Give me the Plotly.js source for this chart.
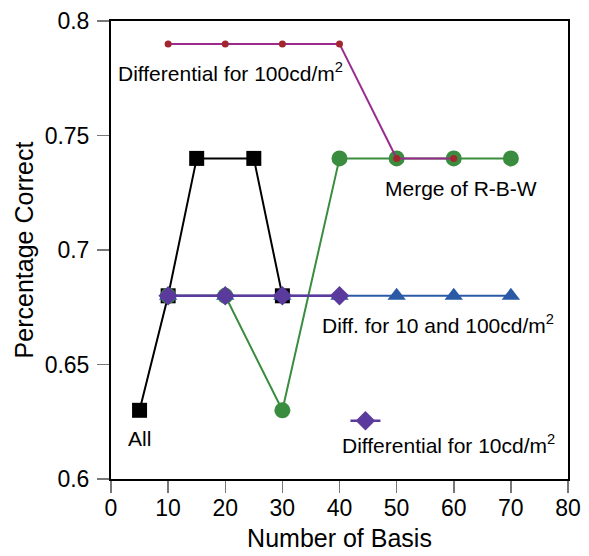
<!DOCTYPE html>
<html><head><meta charset="utf-8">
<script src="https://cdn.plot.ly/plotly-3.0.1.min.js"></script>
<style>html,body{margin:0;padding:0;background:#fff}</style>
</head><body>
<div id="chart" style="width:589px;height:556px"></div>
<script>
// Data
const allX = [5, 10, 15, 25, 30];
const allY = [0.63, 0.68, 0.74, 0.74, 0.68];
const mergeX = [10, 20, 30, 40, 50, 60, 70];
const mergeY = [0.68, 0.68, 0.63, 0.74, 0.74, 0.74, 0.74];
const diff100X = [10, 20, 30, 40, 50, 60];
const diff100Y = [0.79, 0.79, 0.79, 0.79, 0.74, 0.74];
const diff10and100X = [10, 20, 30, 40, 50, 60, 70];
const diff10and100Y = [0.68, 0.68, 0.68, 0.68, 0.68, 0.68, 0.68];
const diff10X = [10, 20, 30, 40];
const diff10Y = [0.68, 0.68, 0.68, 0.68];
const xTicks = [0, 10, 20, 30, 40, 50, 60, 70, 80];
const yTicks = [0.6, 0.65, 0.7, 0.75, 0.8];
const yTickText = ['0.6', '0.65', '0.7', '0.75', '0.8'];

const FONT = 'Liberation Sans, Arial, Helvetica, sans-serif';

const traces = [
  {x: allX, y: allY, mode: 'lines+markers', name: 'All', showlegend: false,
   line: {color: '#000000', width: 2},
   marker: {symbol: 'square', size: 15, color: '#000000'}},
  {x: mergeX, y: mergeY, mode: 'lines+markers', name: 'Merge of R-B-W', showlegend: false,
   line: {color: '#3a8c3f', width: 2},
   marker: {symbol: 'circle', size: 16, color: '#3a8c3f'}},
  {x: diff100X, y: diff100Y, mode: 'lines+markers', name: 'Differential for 100cd/m2', showlegend: false,
   line: {color: '#9a2a8c', width: 2},
   marker: {symbol: 'circle', size: 7, color: '#a3262e'}},
  {x: diff10and100X, y: diff10and100Y, mode: 'lines+markers', name: 'Diff. for 10 and 100cd/m2', showlegend: false,
   line: {color: '#2a5aa6', width: 2},
   marker: {symbol: 'triangle-up', size: 16, color: '#2a5aa6'}},
  {x: diff10X, y: diff10Y, mode: 'lines+markers', name: '', showlegend: true,
   line: {color: '#5a3a9c', width: 2.5},
   marker: {symbol: 'diamond', size: 15, color: '#5a3a9c'}}
];

const ann = (text, x, y) => ({
  text: text, x: x, y: y, xref: 'x', yref: 'y', showarrow: false,
  xanchor: 'left', yanchor: 'middle',
  font: {family: FONT, size: 21, color: '#000'}
});

const layout = {
  width: 589, height: 556,
  margin: {l: 111, r: 21, t: 21, b: 77},
  paper_bgcolor: '#fff', plot_bgcolor: '#fff',
  font: {family: FONT, color: '#000'},
  xaxis: {
    range: [0, 80], tickvals: xTicks, ticks: 'outside', ticklen: 12, tickwidth: 1.5,
    tickcolor: '#777', showgrid: false, zeroline: false, ticklabelstandoff: -5,
    showline: true, linecolor: '#000', linewidth: 2, mirror: true,
    tickfont: {size: 23, family: FONT},
    title: {text: 'Number of Basis', font: {size: 25, family: FONT}, standoff: 10}
  },
  yaxis: {
    range: [0.6, 0.8], tickvals: yTicks, ticktext: yTickText, ticks: 'outside', ticklen: 12, tickwidth: 1.5,
    tickcolor: '#777', showgrid: false, zeroline: false, ticklabelstandoff: 3,
    showline: true, linecolor: '#000', linewidth: 2, mirror: true,
    tickfont: {size: 23, family: FONT},
    title: {text: 'Percentage Correct', font: {size: 25, family: FONT}, standoff: 4}
  },
  showlegend: true,
  legend: {x: 0.513, y: 0.127, xanchor: 'left', yanchor: 'middle', bgcolor: 'rgba(0,0,0,0)',
           font: {size: 10}, itemwidth: 30, itemclick: false},
  annotations: [
    ann('Differential for 100cd/m<sup>2</sup>', 0.9, 0.7779),
    ann('Merge of R-B-W', 47.6, 0.7269),
    ann('Diff. for 10 and 100cd/m<sup>2</sup>', 36.5, 0.6678),
    ann('All', 2.6, 0.6179),
    ann('Differential for 10cd/m<sup>2</sup>', 40.0, 0.6153)
  ]
};

Plotly.newPlot('chart', traces, layout, {staticPlot: true, displayModeBar: false});
</script>
</body></html>
